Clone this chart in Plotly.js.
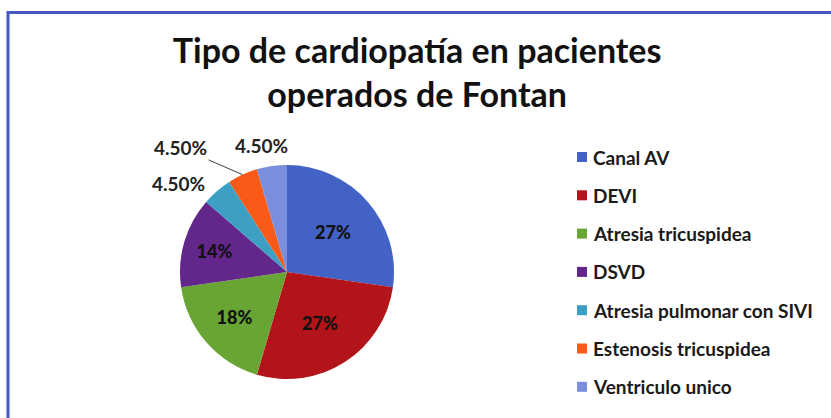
<!DOCTYPE html>
<html>
<head>
<meta charset="utf-8">
<script src="https://cdn.plot.ly/plotly-3.0.1.min.js"></script>
<style>html,body{margin:0;padding:0;background:#fff;}#chart{width:831px;height:418px;}</style>
</head>
<body>
<div id="chart"></div>
<script>
// Data
const categories = ["Canal AV", "DEVI", "Atresia tricuspidea", "DSVD", "Atresia pulmonar con SIVI", "Estenosis tricuspidea", "Ventriculo unico"];
const patients = [6, 6, 4, 3, 1, 1, 1];
const pctLabels = ["27%", "27%", "18%", "14%", "4.50%", "4.50%", "4.50%"];
const colors = ["#4262c6", "#b3141a", "#68a535", "#63268b", "#3c9fc3", "#fa5a17", "#7a8edc"];

const W = 831, H = 418;
const px = x => x / W;
const py = y => 1 - y / H;

// pie geometry
const cx = 287, cy = 272, r = 107;
const total = patients.reduce((a, b) => a + b, 0);
const isSmall = patients.map(v => v / total < 0.08);

const trace = {
  type: "pie",
  labels: categories,
  values: patients,
  text: pctLabels,
  textinfo: "text",
  textposition: isSmall.map(s => s ? "none" : "inside"),
  insidetextorientation: "horizontal",
  sort: false,
  direction: "clockwise",
  rotation: 0,
  marker: { colors: colors, line: { width: 0 } },
  textfont: { family: "Lato, sans-serif", size: 18, color: "#111", weight: 900 },
  domain: { x: [px(cx - r), px(cx + r)], y: [py(cy + r), py(cy - r)] },
  showlegend: false,
  hoverinfo: "label+value+text"
};

const shapes = [
  { type: "line", xref: "paper", yref: "paper", x0: px(7), x1: px(831), y0: py(12.5), y1: py(12.5), line: { color: "#4458c0", width: 3 } },
  { type: "line", xref: "paper", yref: "paper", x0: px(8), x1: px(8), y0: py(11), y1: py(418), line: { color: "#4458c0", width: 3 } }
];
const annotations = [];

// outside labels for small slices, anchored at the slice edge (angle from data)
const labelOffsets = { 4: [-38, -8, false], 5: [-62, -27, true], 6: [-10, -21, false] };
let cum = 0;
patients.forEach((v, i) => {
  const mid = 2 * Math.PI * (cum + v / 2) / total;
  cum += v;
  if (!isSmall[i]) return;
  const ex = cx + r * Math.sin(mid), ey = cy - r * Math.cos(mid);
  const off = labelOffsets[i];
  annotations.push({
    xref: "paper", yref: "paper", x: px(ex), y: py(ey),
    text: pctLabels[i], showarrow: true, arrowhead: 0, arrowwidth: off[2] ? 1 : 0.01,
    arrowcolor: off[2] ? "#404040" : "rgba(0,0,0,0)",
    ax: off[0], ay: off[1], standoff: 0,
    font: { family: "Lato, sans-serif", size: 19, color: "#222", weight: "bold" }
  });
});

// manual legend (layout only)
const legendTop = 157, legendGap = 38.3, markX = 577, textX = 591, ms = 10;
categories.forEach((c, i) => {
  const yc = legendTop + i * legendGap;
  shapes.push({ type: "rect", xref: "paper", yref: "paper", x0: px(markX), x1: px(markX + ms), y0: py(yc + ms / 2), y1: py(yc - ms / 2), fillcolor: colors[i], line: { width: 0 } });
  annotations.push({ xref: "paper", yref: "paper", x: px(textX), y: py(yc), xanchor: "left", yanchor: "middle", showarrow: false, text: c, font: { family: "Lato, sans-serif", size: 19, color: "#1a1a1a", weight: "bold" } });
});

const layout = {
  width: W, height: H,
  margin: { l: 0, r: 0, t: 0, b: 0 },
  paper_bgcolor: "#ffffff",
  title: {
    text: "Tipo de cardiopatía en pacientes<br>operados de Fontan",
    font: { family: "Lato, sans-serif", size: 34, color: "#111", weight: "bold" },
    x: 0.502, xanchor: "center", xref: "paper",
    y: 1 - 63 / H, yanchor: "top", yref: "container"
  },
  shapes: shapes,
  annotations: annotations
};

Plotly.newPlot("chart", [trace], layout, { displayModeBar: false, staticPlot: true });
</script>
</body>
</html>
